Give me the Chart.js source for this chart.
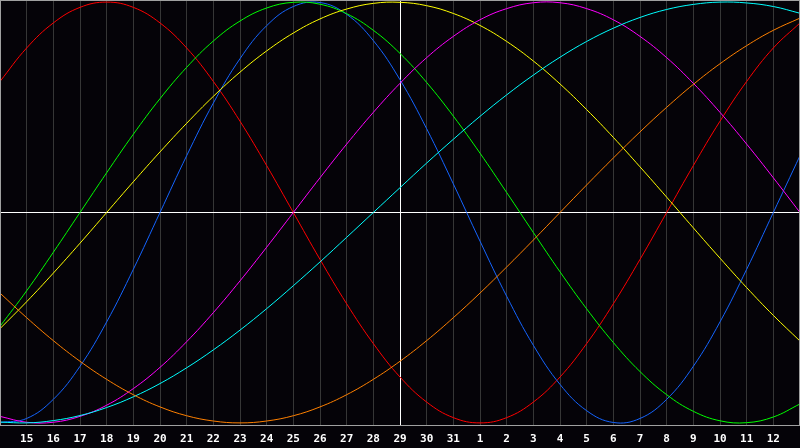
<!DOCTYPE html>
<html>
<head>
<meta charset="utf-8">
<script src="https://cdn.jsdelivr.net/npm/chart.js@4/dist/chart.umd.min.js"></script>
<style>
  html, body { margin: 0; padding: 0; background: #050308; }
  #wrap { width: 800px; height: 448px; }
</style>
</head>
<body>
<div id="wrap"><canvas id="bio"></canvas></div>
<script>
// day labels (first and last sit on the frame and are not shown)
const days = ["14","15","16","17","18","19","20","21","22","23","24","25","26","27","28","29","30","31",
  "1","2","3","4","5","6","7","8","9","10","11","12","13"];

// values, -100..100, one per day
const blueVals    = [-99.8,-97.9,-88.8,-73.1,-52.0,-27.0,0,27.0,52.0,73.1,88.8,97.9,99.8,94.2,81.7,63.1,39.8,13.6,-13.6,-39.8,-63.1,-81.7,-94.2,-99.8,-97.9,-88.8,-73.1,-52.0,-27.0,0,27.0];
const redVals     = [62.3,78.2,90.1,97.5,100,97.5,90.1,78.2,62.3,43.4,22.3,0,-22.3,-43.4,-62.3,-78.2,-90.1,-97.5,-100,-97.5,-90.1,-78.2,-62.3,-43.4,-22.3,0,22.3,43.4,62.3,78.2,90.1];
const greenVals   = [-54.1,-37.2,-18.9,0,18.9,37.2,54.1,69.0,81.5,91.0,97.2,99.9,99.0,94.5,86.6,75.6,61.8,45.8,28.2,9.5,-9.5,-28.2,-45.8,-61.8,-75.6,-86.6,-94.5,-99.0,-99.9,-97.2,-91.0];
const magentaVals = [-96.9,-99.7,-99.7,-96.9,-91.6,-83.7,-73.6,-61.4,-47.6,-32.5,-16.5,0,16.5,32.5,47.6,61.4,73.6,83.7,91.6,96.9,99.7,99.7,96.9,91.6,83.7,73.6,61.4,47.6,32.5,16.5,0];
const yellowVals  = [-55.2,-42.4,-28.8,-14.6,0,14.6,28.8,42.4,55.2,66.7,76.8,85.3,92.0,96.7,99.4,99.9,98.3,94.6,88.9,81.3,72.0,61.1,48.9,35.7,21.7,7.3,-7.3,-21.7,-35.7,-48.9,-61.1];
const orangeVals  = [-38.3,-50.0,-60.9,-70.7,-79.3,-86.6,-92.4,-96.6,-99.1,-100,-99.1,-96.6,-92.4,-86.6,-79.3,-70.7,-60.9,-50.0,-38.3,-25.9,-13.1,0,13.1,25.9,38.3,50.0,60.9,70.7,79.3,86.6,92.4];
const cyanVals    = [-99.6,-100,-98.9,-96.5,-92.7,-87.6,-81.3,-73.8,-65.3,-55.9,-45.7,-34.8,-23.5,-11.8,0,11.8,23.5,34.8,45.7,55.9,65.3,73.8,81.3,87.6,92.7,96.5,98.9,100,99.6,97.9,94.7];

const todayIndex = 15;

function line(data, color) {
  return {
    data: data,
    borderColor: color,
    borderWidth: 1,
    pointRadius: 0,
    tension: 0.4,
    fill: false
  };
}

// background and frame
const frame = {
  id: "frame",
  beforeDraw(chart) {
    const c = chart.ctx;
    c.save();
    c.fillStyle = "#050308";
    c.fillRect(0, 0, chart.width, chart.height);
    c.restore();
  },
  afterDraw(chart) {
    const a = chart.chartArea;
    const c = chart.ctx;
    c.save();
    c.strokeStyle = "#a0a0a0";
    c.lineWidth = 1;
    c.strokeRect(a.left + 0.5, a.top + 0.5, a.right - a.left - 1, a.bottom - a.top);
    c.restore();
  }
};

new Chart(document.getElementById("bio"), {
  type: "line",
  data: {
    labels: days,
    datasets: [
      line(orangeVals, "#ff8000"),
      line(cyanVals, "#00ffff"),
      line(magentaVals, "#ff00ff"),
      line(yellowVals, "#ffff00"),
      line(greenVals, "#00ff00"),
      line(blueVals, "#1464ff"),
      line(redVals, "#ff0000")
    ]
  },
  options: {
    responsive: true,
    maintainAspectRatio: false,
    animation: false,
    layout: { padding: 0, autoPadding: false },
    plugins: { legend: { display: false }, tooltip: { enabled: false } },
    scales: {
      x: {
        type: "category",
        offset: false,
        afterFit(scale) {
          scale.height = 23;
          scale.paddingLeft = 0;
          scale.paddingRight = 0;
        },
        border: { display: false },
        grid: {
          drawTicks: false,
          color: (ctx) => ctx.index === todayIndex ? "#ffffff" : "#363636",
          lineWidth: 1
        },
        ticks: {
          autoSkip: false,
          maxRotation: 0,
          padding: 8,
          color: "#ffffff",
          font: { family: "DejaVu Sans Mono", size: 11, weight: "bold" },
          callback: (v, i) => (i === 0 || i === days.length - 1) ? "" : days[i]
        }
      },
      y: {
        min: -101,
        max: 101,
        afterFit(scale) { scale.width = 0; },
        border: { display: false },
        grid: {
          drawTicks: false,
          color: (ctx) => ctx.tick && ctx.tick.value === 0 ? "#ffffff" : "rgba(0,0,0,0)"
        },
        ticks: { display: false, stepSize: 101 }
      }
    }
  },
  plugins: [frame]
});
</script>
</body>
</html>
